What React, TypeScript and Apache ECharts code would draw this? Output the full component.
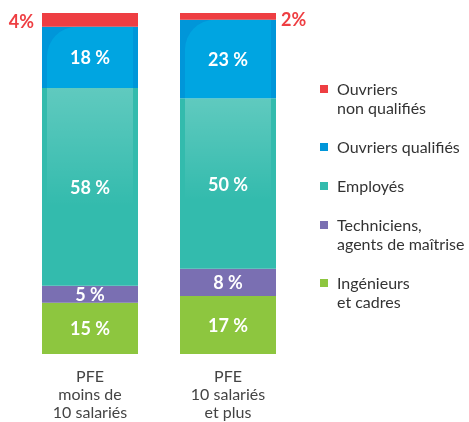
import React, { useEffect, useRef } from "react";
import * as echarts from "echarts";

const categories = ["PFE\nmoins de\n10 salariés", "PFE\n10 salariés\net plus"];
const ouvriersNonQualifies = [4, 2];
const ouvriersQualifies = [18, 23];
const employes = [58, 50];
const techniciens = [5, 8];
const ingenieurs = [15, 17];

const legendNames = [
  "Ouvriers\nnon qualifiés",
  "Ouvriers qualifiés",
  "Employés",
  "Techniciens,\nagents de maîtrise",
  "Ingénieurs\net cadres",
];
const legendColors = ["#EE3E42", "#0096D9", "#33BBAD", "#7A6FB2", "#8DC63F"];

const FONT = "Lato, 'Noto Sans', sans-serif";

export default function App() {
  const ref = useRef<HTMLDivElement>(null);
  useEffect(() => {
    if (!ref.current) return;
    const chart = echarts.init(ref.current, undefined, { renderer: "svg" });

    const inside = {
      show: true,
      position: "inside",
      formatter: "{c} %",
      color: "#fff",
      fontSize: 18,
      fontWeight: "bold",
      fontFamily: FONT,
    };

    const graphic: any[] = [];
    let cy = 88;
    legendNames.forEach((name, i) => {
      const lines = name.split("\n").length;
      graphic.push({
        type: "rect",
        shape: { x: 320, y: cy - 3, width: 8, height: 8 },
        style: { fill: legendColors[i] },
      });
      graphic.push({
        type: "text",
        x: 337,
        y: cy - 9.5,
        style: {
          text: name,
          fill: "#333",
          font: `16px ${FONT}`,
          lineHeight: 19,
          verticalAlign: "top",
          align: "left",
        },
      });
      cy += lines * 19 + 20;
    });

    const base = ingenieurs.map((v, i) => v + techniciens[i]);

    chart.setOption({
      animation: false,
      grid: { left: 21, width: 276, top: 13, height: 341 },
      xAxis: [
        {
          type: "category",
          data: categories,
          axisLine: { show: false },
          axisTick: { show: false },
          axisLabel: {
            margin: 12,
            color: "#444",
            fontSize: 16,
            lineHeight: 18,
            fontFamily: FONT,
          },
        },
        { type: "category", data: categories, show: false },
      ],
      yAxis: { type: "value", min: 0, max: 100, show: false },
      graphic,
      series: [
        {
          name: "Ingénieurs et cadres",
          type: "bar",
          stack: "a",
          barWidth: 96,
          data: ingenieurs,
          itemStyle: { color: legendColors[4] },
          label: inside,
        },
        {
          name: "Techniciens, agents de maîtrise",
          type: "bar",
          stack: "a",
          barWidth: 96,
          data: techniciens,
          itemStyle: { color: legendColors[3] },
          label: inside,
        },
        {
          name: "Employés",
          type: "bar",
          stack: "a",
          barWidth: 96,
          data: employes,
          itemStyle: { color: legendColors[2] },
          label: inside,
        },
        {
          name: "Ouvriers qualifiés",
          type: "bar",
          stack: "a",
          barWidth: 96,
          data: ouvriersQualifies,
          itemStyle: { color: legendColors[1] },
          label: inside,
        },
        {
          name: "Ouvriers non qualifiés",
          type: "bar",
          stack: "a",
          barWidth: 96,
          data: ouvriersNonQualifies.map((v, i) => ({
            value: v,
            label: {
              show: true,
              position: i === 0 ? "left" : "right",
              distance: i === 0 ? 8 : 5,
              offset: i === 0 ? [0, 1] : [0, 3],
              formatter: "{c}%",
              color: "#EE3E42",
              fontSize: 18,
              fontWeight: "bold",
              fontFamily: FONT,
            },
          })),
          itemStyle: { color: legendColors[0] },
        },
        {
          type: "bar",
          xAxisIndex: 1,
          stack: "ov",
          barWidth: 86,
          silent: true,
          data: base,
          itemStyle: { color: "rgba(0,0,0,0)" },
        },
        {
          type: "bar",
          xAxisIndex: 1,
          stack: "ov",
          barWidth: 86,
          silent: true,
          data: employes,
          itemStyle: {
            color: new echarts.graphic.LinearGradient(0, 0, 0, 1, [
              { offset: 0, color: "rgba(255,255,255,0.22)" },
              { offset: 0.6, color: "rgba(255,255,255,0)" },
              { offset: 1, color: "rgba(255,255,255,0)" },
            ]),
          },
        },
        {
          type: "bar",
          xAxisIndex: 1,
          stack: "ov",
          barWidth: 86,
          silent: true,
          data: ouvriersQualifies,
          itemStyle: {
            color: "rgba(0,185,235,0.45)",
            borderRadius: [30, 0, 0, 0],
          },
        },
      ],
    });
    return () => chart.dispose();
  }, []);
  return (
    <div
      ref={ref}
      style={{ position: "fixed", left: 0, top: 0, width: 469, height: 422 }}
    />
  );
}
